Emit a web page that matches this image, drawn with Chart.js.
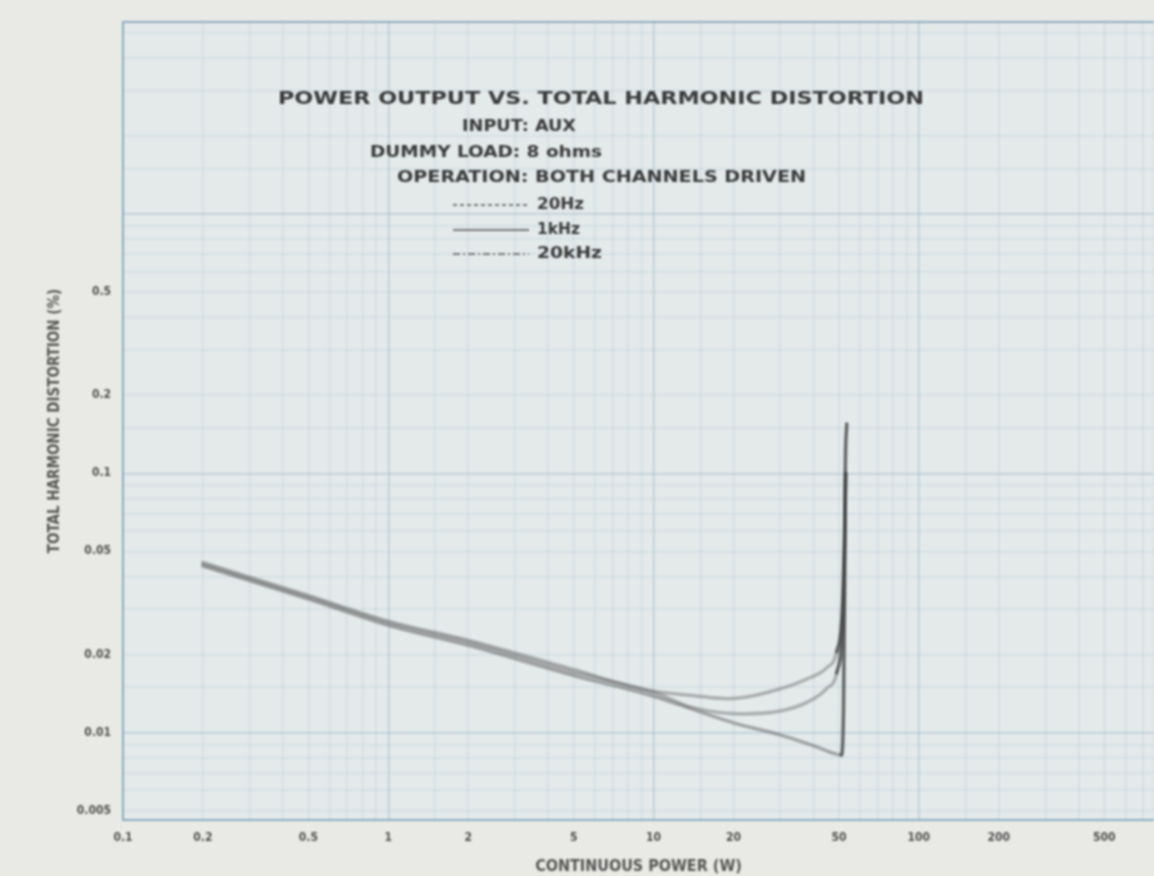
<!DOCTYPE html>
<html>
<head>
<meta charset="utf-8">
<title>Power Output vs. Total Harmonic Distortion</title>
<script src="https://cdn.jsdelivr.net/npm/chart.js@4.4.1/dist/chart.umd.min.js"></script>
<style>
  html, body { margin: 0; padding: 0; background: #e9eae5; overflow: hidden; }
  #wrap { width: 1154px; height: 876px; position: relative; }
  #thdChart { display: block; filter: blur(0.9px); }
</style>
</head>
<body>
<div id="wrap">
  <canvas id="thdChart"></canvas>
</div>
<script>
// values (power in W, THD in %)
const power20Hz = [0.2, 0.5, 1, 2, 5, 10, 14, 21.7, 30, 38, 45, 49, 51.5, 52.5, 53];
const thd20Hz   = [0.0446, 0.0333, 0.0265, 0.0223, 0.0171, 0.0143, 0.0125, 0.0118, 0.0121, 0.0131, 0.0148, 0.017, 0.025, 0.05, 0.1];

const power1kHz = [0.2, 0.5, 1, 2, 5, 10, 20, 30, 40, 48, 51, 52, 52.5, 52.8, 53.5];
const thd1kHz   = [0.0439, 0.0327, 0.0259, 0.0217, 0.0166, 0.0138, 0.0109, 0.0098, 0.0089, 0.0083, 0.0082, 0.012, 0.035, 0.1, 0.155];

const power20kHz = [0.2, 0.5, 1, 2, 5, 9, 14, 19, 29, 39, 45, 49, 51.5, 52.5, 53];
const thd20kHz   = [0.0453, 0.0338, 0.0269, 0.0227, 0.0175, 0.0147, 0.0139, 0.0135, 0.0146, 0.0163, 0.0178, 0.0205, 0.03, 0.06, 0.1];

const xTickLabels = [0.1, 0.2, 0.5, 1, 2, 5, 10, 20, 50, 100, 200, 500];
const yTickLabels = [0.005, 0.01, 0.02, 0.05, 0.1, 0.2, 0.5];

const titleLines = [
  'POWER OUTPUT VS. TOTAL HARMONIC DISTORTION',
  'INPUT: AUX',
  'DUMMY LOAD: 8 ohms',
  'OPERATION: BOTH CHANNELS DRIVEN'
];
const legendLabels = ['20Hz', '1kHz', '20kHz'];

function toPoints(xs, ys) {
  return xs.map((x, i) => ({ x: x, y: ys[i] }));
}

function isListed(list, v) {
  return list.some((t) => Math.abs(v / t - 1) < 1e-6);
}

// make sure every labelled value has a tick (log scale rounds some away)
function addLabelTicks(list) {
  return function (scale) {
    list.forEach((v) => {
      if (v >= scale.min && v <= scale.max && !scale.ticks.some((t) => Math.abs(t.value / v - 1) < 1e-6)) {
        scale.ticks.push({ value: v });
      }
    });
    scale.ticks.sort((a, b) => a.value - b.value);
  };
}

function gridColor(ctx) {
  const v = ctx.tick ? ctx.tick.value : 0;
  const e = Math.log10(v);
  if (Math.abs(e - Math.round(e)) < 1e-6) return 'rgba(115,160,185,0.38)';
  return 'rgba(140,180,200,0.22)';
}

const FONT = '"DejaVu Sans Condensed", "Liberation Sans", sans-serif';

// text of the drawn-in title block, squeezed to the width it takes in the scan
function fitText(ctx, text, left, y, width, size) {
  ctx.font = 'bold ' + size + 'px ' + FONT;
  const w = ctx.measureText(text).width;
  ctx.save();
  ctx.translate(left, y);
  ctx.scale(width / w, 1);
  ctx.fillText(text, 0, 0);
  ctx.restore();
}

const paperPlugin = {
  id: 'paper',
  beforeDraw(chart) {
    const { ctx, chartArea: a } = chart;
    ctx.save();
    ctx.fillStyle = '#e9eae5';
    ctx.fillRect(0, 0, chart.width, chart.height);
    ctx.fillStyle = '#e4e9ea';
    ctx.fillRect(a.left, a.top, a.right - a.left, a.bottom - a.top);
    ctx.restore();
  },
  beforeDatasetsDraw(chart) {
    const { ctx, chartArea: a } = chart;
    ctx.save();
    ctx.strokeStyle = 'rgba(120,160,185,0.8)';
    ctx.lineWidth = 2;
    ctx.strokeRect(a.left, a.top, a.right - a.left + 20, a.bottom - a.top);
    ctx.restore();
  }
};

const titleBlock = {
  id: 'titleBlock',
  afterDatasetsDraw(chart) {
    const ctx = chart.ctx;
    ctx.save();
    ctx.fillStyle = '#3a3a3a';
    ctx.textBaseline = 'middle';
    fitText(ctx, titleLines[0], 278, 99, 646, 18);
    fitText(ctx, titleLines[1], 462, 127, 114, 16);
    fitText(ctx, titleLines[2], 370, 153, 232, 16);
    fitText(ctx, titleLines[3], 397, 178, 409, 16);

    const rows = [205, 230, 254];
    const dashes = [[4, 3], [], [7, 3, 2, 3]];
    const widths = [47, 43, 65];
    rows.forEach((y, i) => {
      ctx.strokeStyle = '#777';
      ctx.lineWidth = 1.8;
      ctx.setLineDash(dashes[i]);
      ctx.beginPath();
      ctx.moveTo(453, y);
      ctx.lineTo(529, y);
      ctx.stroke();
      ctx.setLineDash([]);
      fitText(ctx, legendLabels[i], 537, y, widths[i], 15);
    });
    ctx.restore();
  }
};

function steepDark(ctx) {
  const dx = Math.abs(ctx.p1.x - ctx.p0.x);
  const dy = Math.abs(ctx.p1.y - ctx.p0.y);
  return dy > 4 * dx ? 'rgba(70,70,70,0.8)' : undefined;
}

const chart = new Chart(document.getElementById('thdChart'), {
  type: 'line',
  data: {
    datasets: [
      {
        label: legendLabels[0],
        data: toPoints(power20Hz, thd20Hz),
        borderColor: 'rgba(105,105,105,0.45)',
        borderWidth: 3.5,
        segment: { borderColor: steepDark }
      },
      {
        label: legendLabels[1],
        data: toPoints(power1kHz, thd1kHz),
        borderColor: 'rgba(95,95,95,0.5)',
        borderWidth: 3.5,
        segment: { borderColor: steepDark }
      },
      {
        label: legendLabels[2],
        data: toPoints(power20kHz, thd20kHz),
        borderColor: 'rgba(105,105,105,0.45)',
        borderWidth: 3.5,
        segment: { borderColor: steepDark }
      }
    ]
  },
  options: {
    responsive: true,
    maintainAspectRatio: false,
    animation: false,
    layout: { padding: { top: 22, right: 0, left: 0, bottom: 0 } },
    elements: {
      point: { radius: 0 },
      line: { cubicInterpolationMode: 'monotone', fill: false, borderCapStyle: 'round' }
    },
    plugins: {
      legend: { display: false },
      tooltip: { enabled: false }
    },
    scales: {
      x: {
        type: 'logarithmic',
        min: 0.1,
        max: 770,
        afterBuildTicks: addLabelTicks(xTickLabels),
        afterFit(scale) { scale.height = 56; scale.paddingRight = 0; },
        border: { display: false },
        grid: { color: gridColor, lineWidth: 1.5, drawTicks: false },
        ticks: {
          autoSkip: false,
          maxRotation: 0,
          padding: 11,
          color: '#505050',
          font: { family: FONT, size: 12, weight: 'bold' },
          callback: (v) => (isListed(xTickLabels, v) ? String(v) : '')
        },
        title: {
          display: true,
          text: 'CONTINUOUS POWER (W)',
          color: '#555',
          font: { family: FONT, size: 16, weight: 'bold' },
          padding: { top: 4, bottom: 0 }
        }
      },
      y: {
        type: 'logarithmic',
        min: 0.0046,
        max: 5.5,
        afterBuildTicks: addLabelTicks(yTickLabels),
        afterFit(scale) { scale.width = 123; },
        border: { display: false },
        grid: { color: gridColor, lineWidth: 1.5, drawTicks: false },
        ticks: {
          autoSkip: false,
          padding: 12,
          color: '#505050',
          font: { family: FONT, size: 12, weight: 'bold' },
          callback: (v) => (isListed(yTickLabels, v) ? String(v) : '')
        },
        title: {
          display: true,
          text: 'TOTAL HARMONIC DISTORTION (%)',
          color: '#555',
          font: { family: FONT, size: 15, weight: 'bold' },
          padding: { top: 46, bottom: 0 }
        }
      }
    }
  },
  plugins: [paperPlugin, titleBlock]
});
</script>
</body>
</html>
